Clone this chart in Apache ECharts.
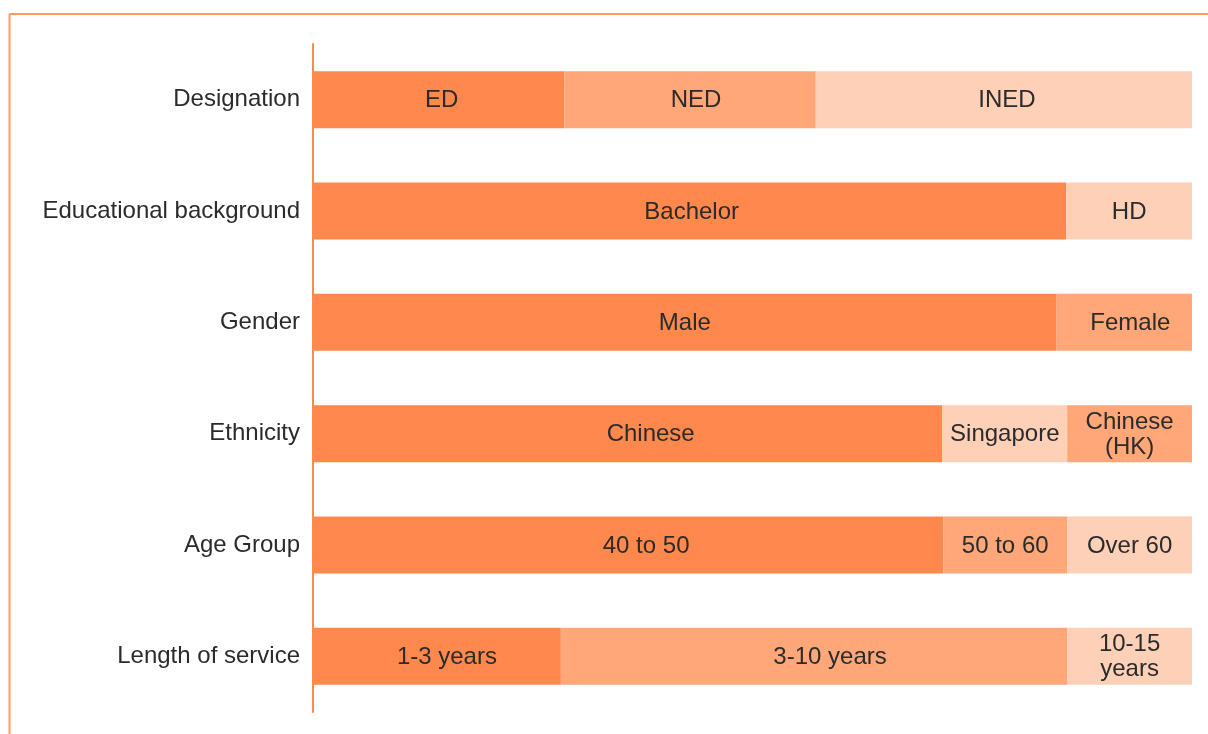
<!DOCTYPE html>
<html><head><meta charset="utf-8">
<script src="https://cdn.jsdelivr.net/npm/echarts@6/dist/echarts.min.js"></script>
<style>html,body{margin:0;padding:0;background:#fff}#c{width:1208px;height:734px}</style>
</head><body><div id="c"></div>
<script>
const categories = ['Designation','Educational background','Gender','Ethnicity','Age Group','Length of service'];
const segA = [28.6, 85.7, 84.6, 71.6, 71.7, 28.2];
const segB = [28.6, 14.3, 15.4, 14.2, 14.1, 57.6];
const segC = [42.8, 0, 0, 14.2, 14.2, 14.2];
const labelsA = ['ED','Bachelor','Male','Chinese','40 to 50','1-3 years'];
const labelsB = ['NED','HD','Female','Singapore','50 to 60','3-10 years'];
const labelsC = ['INED','','','Chinese\n(HK)','Over 60','10-15\nyears'];
const DARK = '#FF884D', MID = '#FFA778', LIGHT = '#FFD0B8';
const colorsA = [DARK,DARK,DARK,DARK,DARK,DARK];
const colorsB = [MID,LIGHT,MID,LIGHT,MID,MID];
const colorsC = [LIGHT,LIGHT,LIGHT,MID,LIGHT,LIGHT];
// label horizontal nudges (style only)
const shiftA = [3,2,0,23,18,10];
const shiftB = [6,0,6,0,0,16];
const shiftC = [3,0,0,0,0,0];

const FONT = 'Liberation Sans, Arial, sans-serif';
function mk(vals, labels, colors, shifts){
  return vals.map((v,i)=>({value:v, itemStyle:{color:colors[i]}, label:{formatter:labels[i], offset:[shifts[i],1]}}));
}
const labelStyle = {show:true, position:'inside', color:'#2b2b2b', fontSize:24, lineHeight:25, fontFamily:FONT};
const chart = echarts.init(document.getElementById('c'));
chart.setOption({
  animation:false,
  grid:{left:313, right:16, top:44, bottom:22},
  xAxis:{type:'value', min:0, max:100, show:false},
  yAxis:{type:'category', data:categories, inverse:true,
    axisLine:{show:true, lineStyle:{color:'#FF884D', width:2}},
    axisTick:{show:false},
    axisLabel:{color:'#2b2b2b', fontSize:24, margin:13, padding:[3,0,0,0], fontFamily:FONT}},
  graphic:[
    {type:'line', shape:{x1:9.5, y1:14, x2:1208, y2:14}, style:{stroke:'#FF9A66', lineWidth:2}},
    {type:'line', shape:{x1:9.5, y1:14, x2:9.5, y2:734}, style:{stroke:'#FF9A66', lineWidth:2}}
  ],
  series:[
    {type:'bar', stack:'s', barWidth:57, data:mk(segA,labelsA,colorsA,shiftA), label:labelStyle},
    {type:'bar', stack:'s', barWidth:57, data:mk(segB,labelsB,colorsB,shiftB), label:labelStyle},
    {type:'bar', stack:'s', barWidth:57, data:mk(segC,labelsC,colorsC,shiftC), label:labelStyle}
  ]
});
</script></body></html>
